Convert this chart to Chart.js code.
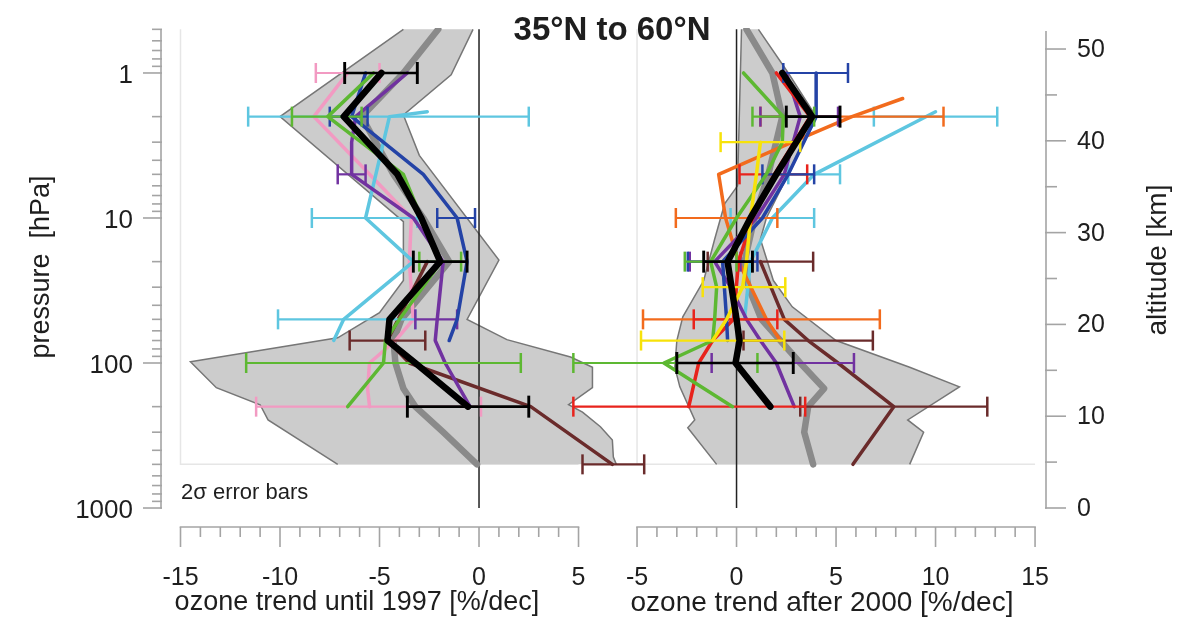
<!DOCTYPE html>
<html><head><meta charset="utf-8">
<script src="https://cdn.jsdelivr.net/npm/chart.js@4"></script>
<style>html,body{margin:0;padding:0;background:#fff;}canvas{display:block;}</style>
</head><body>
<canvas id="c" width="1195" height="617"></canvas>
<script>
// ---------- DATA ----------
const pLevels = [0.5, 1, 1.5, 1.85, 2, 3, 5, 10, 20, 30, 50, 70, 100, 150, 200, 300, 500];
const pressureTicks = [1, 10, 100, 1000];
const altitudeTicks = [0, 10, 20, 30, 40, 50];
const leftTicks = [-15, -10, -5, 0, 5];
const rightTicks = [-5, 0, 5, 10, 15];

// left panel: ozone trend until 1997
const L_grey   = [-2.05,-3.8,null,null,-5.9,null,-4.3,-2.8,-1.5,null,-3.9,-4.3,-4.2,-3.8,-3.2,-1.8,-0.1];
const L_pink   = [null,-6.6,null,null,-8.3,null,-5.5,-3.4,-3.5,null,-3.3,-4.2,-5.5,-5.6,-5.5,null,null];
const L_green  = [null,-5.3,null,null,-7.6,null,-3.8,-2.9,-1.9,null,-4.0,-4.7,-4.8,null,-6.6,null,null];
const L_cyan   = [null,null,null,-2.6,-4.5,null,null,-5.7,-3.3,null,-6.8,-7.3,null,null,null,null,null];
const L_blue   = [null,-5.7,null,null,-6.4,null,-2.8,-1.1,-0.6,null,-1.1,-1.5,null,null,null,null,null];
const L_purple = [null,-3.6,null,null,-6.2,-6.4,-6.4,-3.3,-1.8,null,-2.1,-2.2,-1.7,null,-0.45,null,null];
const L_brown  = [null,null,null,null,null,null,null,null,-2.6,null,null,-4.6,-3.5,null,2.6,null,6.7];
const L_black  = [null,-4.9,null,null,-6.8,null,-4.1,-2.9,-1.95,null,-4.5,-4.6,-3.2,null,-0.55,null,null];

// error bars [pressure, low, high]
const L_blackErr  = [[1,-6.75,-3.1],[20,-3.3,-0.6],[200,-3.6,2.5]];
const L_pinkErr   = [[1,-8.2,-5.0],[200,-11.2,0.1]];
const L_greenErr  = [[2,-9.4,-5.9],[20,-3.0,-0.9],[100,-11.7,2.1]];
const L_cyanErr   = [[2,-11.6,2.5],[10,-8.4,-3.1],[50,-10.1,-3.2]];
const L_blueErr   = [[2,-7.5,-5.6],[10,-2.1,-0.2]];
const L_purpleErr = [[5,-7.1,-5.7],[50,-3.2,-1.1]];
const L_brownErr  = [[70,-6.5,-2.7],[500,5.2,8.3]];

// left grey envelope edges
const envL_minP = [0.5, 2, 10.6, 27, 45, 67, 98, 148, 194, 247, 500];
const envL_minV = [-3.8, -10.0, -3.8, -3.8, -5.0, -7.1, -14.5, -13.2, -11.0, -10.6, -7.1];
const envL_maxP = [0.5, 1.03, 1.95, 3.7, 19.5, 50, 69, 91, 107, 148, 194, 218, 275, 340, 445, 500];
const envL_maxV = [-0.3, -1.4, -3.8, -3.0, 1.0, -0.6, 1.4, 4.6, 5.7, 5.7, 4.5, 5.2, 6.1, 6.7, 6.75, 6.9];

// right panel: ozone trend after 2000
const R_grey   = [0.5,1.8,null,null,2.3,null,1.6,0.9,0.4,0.6,1.25,2.2,3.2,4.4,3.6,3.4,3.85];
const R_red    = [null,2.0,null,null,3.7,null,1.9,0.8,0.1,null,-0.15,-1.2,-1.9,null,-2.4,null,null];
const R_blue   = [null,4.0,null,null,4.0,null,2.6,1.3,-0.7,null,-0.5,-0.45,null,null,null,null,null];
const R_green  = [null,0.35,null,null,2.35,2.3,1.5,0.0,-1.3,-1.0,-1.1,-1.2,-3.65,null,-0.2,null,null];
const R_orange = [null,null,8.35,null,5.8,2.8,-0.9,-0.55,0.1,null,1.5,2.2,null,null,null,null,null];
const R_cyan   = [null,null,null,10.0,null,null,3.9,1.8,0.7,null,0.4,null,null,null,null,null,null];
const R_yellow = [null,null,null,null,null,1.2,1.0,0.7,0.5,0.3,-0.5,-1.2,null,null,null,null,null];
const R_purple = [null,2.5,null,null,3.2,null,2.4,1.0,-1.1,-0.3,0.5,1.2,2.0,null,2.9,null,null];
const R_brown  = [null,null,null,null,null,null,null,null,1.2,null,2.4,3.6,5.1,null,7.9,null,5.85];
const R_black  = [null,2.3,null,null,3.8,null,2.0,0.7,-0.45,null,0.0,0.15,-0.05,null,1.7,null,null];

const R_blackErr  = [[2,2.5,5.2],[20,-1.65,0.8],[100,-3.0,2.85]];
const R_redErr    = [[5,0.15,3.55],[50,-2.15,2.05],[200,-8.2,3.45]];
const R_blueErr   = [[1,2.35,5.6],[5,1.3,3.9],[20,-2.45,1.05]];
const R_greenErr  = [[2,0.8,3.9],[20,-2.6,0.0],[100,-8.2,1.05]];
const R_orangeErr = [[2,1.2,10.4],[10,-3.05,2.05],[50,-4.7,7.2]];
const R_cyanErr   = [[2,6.9,13.1],[5,2.6,5.2],[10,-0.3,3.9]];
const R_yellowErr = [[3,-0.8,3.2],[30,-1.7,2.45],[70,-4.8,2.4]];
const R_purpleErr = [[2,1.2,5.1],[20,-2.35,0.2],[100,-1.25,5.9]];
const R_brownErr  = [[20,-1.45,3.85],[70,0.35,6.85],[200,3.2,12.6]];

const envR_minP = [0.5, 6, 8, 14, 27, 48, 70, 107, 146, 247, 280, 500];
const envR_minV = [0.25, 0.05, -0.6, -1.1, -1.65, -2.7, -3.0, -3.1, -2.85, -2.1, -2.45, -1.0];
const envR_maxP = [0.5, 1, 2, 5, 10, 14, 27, 41, 70, 107, 146, 247, 300, 500];
const envR_maxV = [1.1, 2.6, 4.0, 2.6, 1.5, 1.2, 1.85, 2.8, 5.0, 8.7, 11.2, 8.6, 9.4, 8.7];

// ---------- COLOURS ----------
const C = {
  pink: '#f29ac2', green: '#5db832', cyan: '#5ec6e0', blue: '#2443a6', purple: '#7132a0',
  brown: '#6a2b2b', black: '#000000', grey: '#8a8a8a', red: '#e8231c', orange: '#f26b1d',
  yellow: '#f7e20a', env: '#cccccc', envEdge: '#767676'
};
const FONT = '"Liberation Sans", Arial, Helvetica, sans-serif';

// ---------- BUILD DATASETS ----------
function series(vals) {
  return pLevels.map((p, i) => ({x: vals[i], y: p})).filter(d => d.x !== null);
}
function edge(ps, vs) { return ps.map((p, i) => ({x: vs[i], y: p})); }
function envelope(minP, minV, maxP, maxV) {
  return edge(minP, minV).concat(edge(maxP, maxV).reverse());
}
const datasets = [];
function addLine(axis, vals, color, width, order) {
  datasets.push({xAxisID: axis, yAxisID: 'y', data: series(vals), borderColor: color, backgroundColor: color,
    borderWidth: width, pointRadius: 0, fill: false, order: order,
    borderJoinStyle: 'round', borderCapStyle: 'round'});
}
function addErr(axis, bars, color, width, cap, order) {
  bars.forEach(b => datasets.push({xAxisID: axis, yAxisID: 'y',
    data: [{x: b[1], y: b[0]}, {x: b[2], y: b[0]}],
    borderColor: color, backgroundColor: color, borderWidth: width, fill: false,
    pointStyle: 'line', pointRotation: 90, pointRadius: cap, pointBorderWidth: width + 0.3,
    pointBorderColor: color, order: order}));
}
function addEnv(axis, minP, minV, maxP, maxV) {
  datasets.push({xAxisID: axis, yAxisID: 'y', data: envelope(minP, minV, maxP, maxV), fill: 'shape',
    backgroundColor: C.env, borderColor: 'rgba(0,0,0,0)', borderWidth: 0, pointRadius: 0, order: 200});
  datasets.push({xAxisID: axis, yAxisID: 'y', data: edge(minP, minV), fill: false,
    borderColor: C.envEdge, borderWidth: 1.5, pointRadius: 0, order: 190});
  datasets.push({xAxisID: axis, yAxisID: 'y', data: edge(maxP, maxV), fill: false,
    borderColor: C.envEdge, borderWidth: 1.5, pointRadius: 0, order: 190});
}
function addRule(axis, pts, color, width, order) {
  datasets.push({xAxisID: axis, yAxisID: 'y', data: pts, borderColor: color, borderWidth: width,
    pointRadius: 0, fill: false, order: order});
}

// frames and zero lines
addRule('xL', [{x: -15, y: 0.5}, {x: -15, y: 500}, {x: 5, y: 500}], '#e6e6e6', 1.5, 300);
addRule('xR', [{x: -5, y: 0.5}, {x: -5, y: 500}, {x: 15, y: 500}], '#e6e6e6', 1.5, 300);
addEnv('xL', envL_minP, envL_minV, envL_maxP, envL_maxV);
addEnv('xR', envR_minP, envR_minV, envR_maxP, envR_maxV);
addRule('xL', [{x: 0, y: 0.5}, {x: 0, y: 1000}], '#222', 1.5, 150);
addRule('xR', [{x: 0, y: 0.5}, {x: 0, y: 1000}], '#222', 1.5, 150);

// left panel
addLine('xL', L_grey, C.grey, 6.5, 120);
addLine('xL', L_pink, C.pink, 3.5, 60); addErr('xL', L_pinkErr, C.pink, 2.2, 10, 60);
addLine('xL', L_brown, C.brown, 3.5, 58); addErr('xL', L_brownErr, C.brown, 2.2, 10, 58);
addLine('xL', L_cyan, C.cyan, 3.5, 56); addErr('xL', L_cyanErr, C.cyan, 2.2, 10, 56);
addLine('xL', L_purple, C.purple, 3.5, 54); addErr('xL', L_purpleErr, C.purple, 2.2, 10, 54);
addLine('xL', L_blue, C.blue, 3.5, 52); addErr('xL', L_blueErr, C.blue, 2.2, 10, 52);
addLine('xL', L_green, C.green, 3.5, 50); addErr('xL', L_greenErr, C.green, 2.2, 10, 50);
addLine('xL', L_black, C.black, 6.5, 10); addErr('xL', L_blackErr, C.black, 2.6, 11, 10);

// right panel
addLine('xR', R_grey, C.grey, 6.5, 120);
addLine('xR', R_brown, C.brown, 3.5, 60); addErr('xR', R_brownErr, C.brown, 2.2, 10, 60);
addLine('xR', R_cyan, C.cyan, 3.5, 58); addErr('xR', R_cyanErr, C.cyan, 2.2, 10, 58);
addLine('xR', R_orange, C.orange, 3.5, 56); addErr('xR', R_orangeErr, C.orange, 2.2, 10, 56);
addLine('xR', R_purple, C.purple, 3.5, 54); addErr('xR', R_purpleErr, C.purple, 2.2, 10, 54);
addLine('xR', R_red, C.red, 3.5, 52); addErr('xR', R_redErr, C.red, 2.2, 10, 52);
addLine('xR', R_blue, C.blue, 3.5, 50); addErr('xR', R_blueErr, C.blue, 2.2, 10, 50);
addLine('xR', R_green, C.green, 3.5, 48); addErr('xR', R_greenErr, C.green, 2.2, 10, 48);
addLine('xR', R_yellow, C.yellow, 3.5, 46); addErr('xR', R_yellowErr, C.yellow, 2.2, 10, 46);
addLine('xR', R_black, C.black, 6.5, 10); addErr('xR', R_blackErr, C.black, 2.6, 11, 10);

// ---------- AXES / TEXT PLUGIN ----------
function txt(ctx, s, x, y, font, align, rot) {
  ctx.save(); ctx.translate(x, y); if (rot) ctx.rotate(rot);
  ctx.font = font; ctx.textAlign = align || 'center'; ctx.textBaseline = 'middle';
  ctx.fillStyle = '#1e1e1e'; ctx.fillText(s, 0, 0); ctx.restore();
}
function seg(ctx, x1, y1, x2, y2) { ctx.beginPath(); ctx.moveTo(x1, y1); ctx.lineTo(x2, y2); ctx.stroke(); }

const axesPlugin = {
  id: 'axesPlugin',
  afterDraw(chart) {
    const ctx = chart.ctx, a = chart.chartArea;
    const {xL, xR, y, yAlt} = chart.scales;
    ctx.save();
    ctx.strokeStyle = '#a4a4a4'; ctx.lineWidth = 1.6; ctx.lineCap = 'butt';
    // pressure axis
    const ax = a.left + 1;
    seg(ctx, ax, y.getPixelForValue(0.5), ax, y.getPixelForValue(1000) + 0.8);
    for (let d = 0.1; d <= 100; d *= 10) {
      for (let m = 1; m <= 9; m++) {
        const p = +(m * d).toPrecision(3);
        if (p < 0.5) continue;
        const py = y.getPixelForValue(p);
        const major = pressureTicks.includes(p);
        seg(ctx, ax - (major ? 18 : 9), py, ax + 1, py);
      }
    }
    const p1000 = y.getPixelForValue(1000);
    seg(ctx, ax - 18, p1000, ax + 1, p1000);
    pressureTicks.forEach(p => txt(ctx, String(p), 133, y.getPixelForValue(p) + 3, '26px ' + FONT, 'right'));

    // x axes
    const by = a.bottom;
    [[xL, -15, 5, leftTicks], [xR, -5, 15, rightTicks]].forEach(([s, lo, hi, labs]) => {
      seg(ctx, s.getPixelForValue(lo) - 0.8, by, s.getPixelForValue(hi) + 0.8, by);
      for (let v = lo; v <= hi; v++) {
        const px = s.getPixelForValue(v);
        seg(ctx, px, by, px, by + (v % 5 === 0 ? 20 : 10));
      }
      labs.forEach(v => txt(ctx, String(v), s.getPixelForValue(v), 578, '25px ' + FONT, 'center'));
    });

    // altitude axis
    const rx = a.right;
    seg(ctx, rx, 31, rx, yAlt.getPixelForValue(0) + 0.8);
    for (let k = 0; k <= 50; k += 5) {
      const py = yAlt.getPixelForValue(k);
      seg(ctx, rx - 1, py, rx + (k % 10 === 0 ? 20 : 11), py);
    }
    altitudeTicks.forEach(k => txt(ctx, String(k), 1077, yAlt.getPixelForValue(k) + 1, '25px ' + FONT, 'left'));

    // titles
    txt(ctx, '35°N to 60°N', 612, 31, 'bold 33px ' + FONT, 'center');
    txt(ctx, 'pressure  [hPa]', 42, 267, '27px ' + FONT, 'center', -Math.PI / 2);
    txt(ctx, 'altitude [km]', 1158, 260, '28px ' + FONT, 'center', -Math.PI / 2);
    txt(ctx, '2σ error bars', 181, 493, '22px ' + FONT, 'left');
    txt(ctx, 'ozone trend until 1997 [%/dec]', 357, 603, '27px ' + FONT, 'center');
    txt(ctx, 'ozone trend after 2000 [%/dec]', 822, 603, '28px ' + FONT, 'center');
    ctx.restore();
  }
};

// ---------- CHART ----------
// pixel geometry: chart area 160..1046 x 28..527
new Chart(document.getElementById('c'), {
  type: 'line',
  data: {datasets: datasets},
  options: {
    responsive: false, animation: false, devicePixelRatio: 1, events: [],
    layout: {padding: {left: 160, right: 149, top: 28, bottom: 90}},
    plugins: {legend: {display: false}, tooltip: {enabled: false}},
    scales: {
      xL: {type: 'linear', position: 'bottom', display: false, bounds: 'data', min: -16.03, max: 28.49},
      xR: {type: 'linear', position: 'bottom', display: false, bounds: 'data', min: -28.97, max: 15.55},
      y: {type: 'logarithmic', position: 'left', display: false, bounds: 'data', reverse: true, min: 0.4896, max: 1352},
      yAlt: {type: 'linear', position: 'right', display: false, bounds: 'data', min: -2.07, max: 52.29}
    }
  },
  plugins: [axesPlugin]
});
</script>
</body></html>
